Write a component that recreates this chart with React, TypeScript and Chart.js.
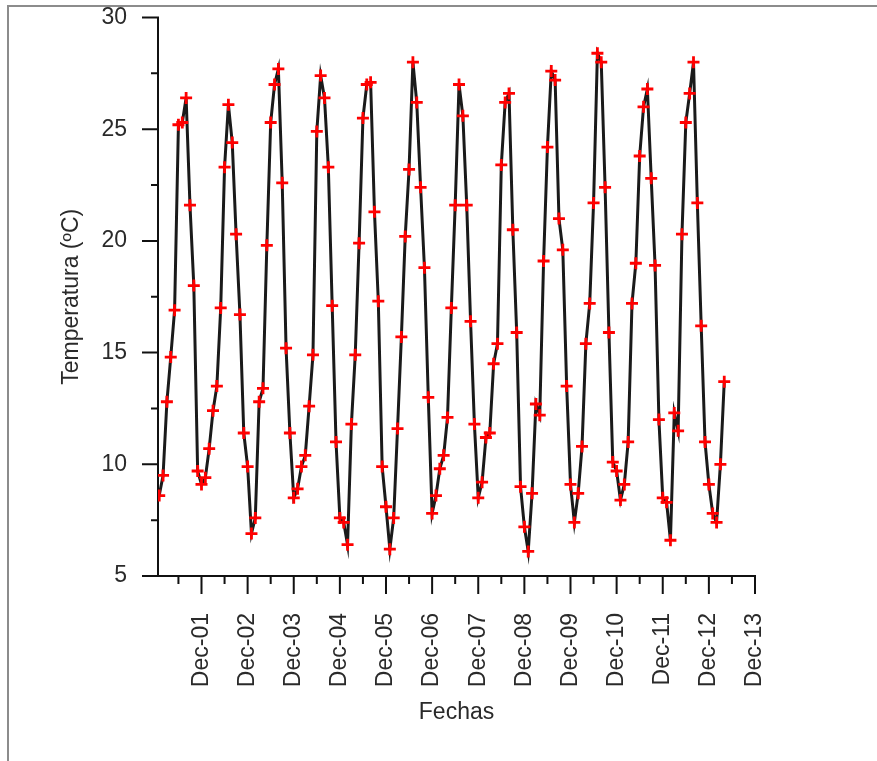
import React, { useEffect, useRef } from 'react';
import { Chart, registerables } from 'chart.js';

Chart.register(...registerables);

// X axis: days counted from Nov-30 00:00 (Dec-01 = 1)
const DAY_TICKS = [1, 2, 3, 4, 5, 6, 7, 8, 9, 10, 11, 12, 13];
const DAY_LABELS = ['Dec-01', 'Dec-02', 'Dec-03', 'Dec-04', 'Dec-05', 'Dec-06', 'Dec-07', 'Dec-08', 'Dec-09', 'Dec-10', 'Dec-11', 'Dec-12', 'Dec-13'];
const HALF_DAY_TICKS = [0.5, 1.5, 2.5, 3.5, 4.5, 5.5, 6.5, 7.5, 8.5, 9.5, 10.5, 11.5, 12.5];
const X_MIN = 0.057;
const X_MAX = 13;

// Y axis
const Y_TICKS = [5, 10, 15, 20, 25, 30];
const Y_MINOR_TICKS = [7.5, 12.5, 17.5, 22.5, 27.5];
const Y_MIN = 5;
const Y_MAX = 30;

// Samples every 2 hours, first one at 02:00 of Nov-30
const FIRST_SAMPLE_HOUR = 2;
const SAMPLE_STEP_HOURS = 2;

// Temperature (ºC), one block of 12 two-hourly samples each
const TEMP_BLOCK_01 = [8.6, 9.5, 12.8, 14.8, 16.9, 25.2, 25.3, 26.4, 21.6, 18.0, 9.7, 9.1];
const TEMP_BLOCK_02 = [9.4, 10.7, 12.4, 13.5, 17.0, 23.3, 26.1, 24.4, 20.3, 16.7, 11.4, 9.9];
const TEMP_BLOCK_03 = [6.9, 7.6, 12.8, 13.4, 19.8, 25.3, 27.0, 27.7, 22.6, 15.2, 11.4, 8.5];
const TEMP_BLOCK_04 = [8.9, 9.9, 10.4, 12.6, 14.9, 24.9, 27.4, 26.4, 23.3, 17.1, 11.0, 7.6];
const TEMP_BLOCK_05 = [7.4, 6.4, 11.8, 14.9, 19.9, 25.5, 27.0, 27.1, 21.3, 17.3, 9.9, 8.1];
const TEMP_BLOCK_06 = [6.2, 7.6, 11.6, 15.7, 20.2, 23.2, 28.0, 26.2, 22.4, 18.8, 13.0, 7.8];
const TEMP_BLOCK_07 = [8.6, 9.8, 10.4, 12.1, 17.0, 21.6, 27.0, 25.6, 21.6, 16.4, 11.8, 8.5];
const TEMP_BLOCK_08 = [9.2, 11.2, 11.4, 14.5, 15.4, 23.4, 26.2, 26.6, 20.5, 15.9, 9.0, 7.2];
const TEMP_BLOCK_09 = [6.1, 8.7, 12.7, 12.2, 19.1, 24.2, 27.6, 27.2, 21.0, 19.6, 13.5, 9.1];
const TEMP_BLOCK_10 = [7.4, 8.7, 10.8, 15.4, 17.2, 21.7, 28.4, 28.0, 22.4, 15.9, 10.1, 9.7];
const TEMP_BLOCK_11 = [8.4, 9.1, 11.0, 17.2, 19.0, 23.8, 26.0, 26.8, 22.8, 18.9, 12.0, 8.5];
const TEMP_BLOCK_12 = [8.3, 6.6, 12.3, 11.5, 20.3, 25.3, 26.6, 28.0, 21.7, 16.2, 11.0, 9.1];
const TEMP_BLOCK_13 = [7.8, 7.4, 10.0, 13.7];

const FONT_FAMILY = "'Liberation Sans', Arial, Helvetica, sans-serif";
const TEXT_COLOR = '#2a2a2a';
const FONT_SIZE = 23;

const axesPlugin = {
  id: 'axesAndTicks',
  beforeDatasetsDraw(chart: any) {
    const { ctx, chartArea: ca, scales } = chart;
    const xs = scales.x;
    const ys = scales.y;
    ctx.save();
    ctx.strokeStyle = '#111';
    ctx.lineWidth = 2;
    ctx.lineCap = 'butt';
    ctx.beginPath();
    const top = ys.getPixelForValue(Y_MAX);
    ctx.moveTo(ca.left, top - 1);
    ctx.lineTo(ca.left, ca.bottom);
    ctx.moveTo(ca.left - 1, ca.bottom);
    ctx.lineTo(xs.getPixelForValue(X_MAX) + 1, ca.bottom);
    for (const v of DAY_TICKS) {
      const px = xs.getPixelForValue(v);
      ctx.moveTo(px, ca.bottom);
      ctx.lineTo(px, ca.bottom + 18);
    }
    for (const v of HALF_DAY_TICKS) {
      const px = xs.getPixelForValue(v);
      ctx.moveTo(px, ca.bottom);
      ctx.lineTo(px, ca.bottom + 8);
    }
    for (const v of Y_TICKS) {
      const py = ys.getPixelForValue(v);
      ctx.moveTo(ca.left, py);
      ctx.lineTo(ca.left - 16, py);
    }
    for (const v of Y_MINOR_TICKS) {
      const py = ys.getPixelForValue(v);
      ctx.moveTo(ca.left, py);
      ctx.lineTo(ca.left - 7, py);
    }
    ctx.stroke();
    ctx.restore();
  },
};

export default function App() {
  const canvasRef = useRef<HTMLCanvasElement>(null);

  useEffect(() => {
    const temps = [
      ...TEMP_BLOCK_01, ...TEMP_BLOCK_02, ...TEMP_BLOCK_03, ...TEMP_BLOCK_04,
      ...TEMP_BLOCK_05, ...TEMP_BLOCK_06, ...TEMP_BLOCK_07, ...TEMP_BLOCK_08,
      ...TEMP_BLOCK_09, ...TEMP_BLOCK_10, ...TEMP_BLOCK_11, ...TEMP_BLOCK_12,
      ...TEMP_BLOCK_13,
    ];
    const points = temps.map((t, i) => ({
      x: (FIRST_SAMPLE_HOUR + i * SAMPLE_STEP_HOURS) / 24,
      y: t,
    }));

    Chart.defaults.font.family = FONT_FAMILY;

    const chart = new Chart(canvasRef.current as HTMLCanvasElement, {
      type: 'line',
      data: {
        datasets: [
          {
            data: points,
            borderColor: '#1a1a1a',
            borderWidth: 3,
            tension: 0,
            fill: false,
            pointStyle: 'cross',
            pointRadius: 6,
            pointBorderColor: '#ff0000',
            pointBackgroundColor: '#ff0000',
            pointBorderWidth: 2.8,
          },
        ],
      },
      options: {
        responsive: false,
        animation: false,
        devicePixelRatio: 1,
        layout: { autoPadding: false, padding: { left: 0, top: 17.5, right: 122, bottom: 0 } },
        plugins: {
          legend: { display: false },
          tooltip: { enabled: false },
        },
        scales: {
          x: {
            type: 'linear',
            min: X_MIN,
            max: X_MAX,
            afterBuildTicks: (s: any) => {
              s.ticks = DAY_TICKS.map((v) => ({ value: v }));
            },
            afterFit: (s: any) => {
              s.height = 185;
              s.paddingLeft = 0;
              s.paddingRight = 0;
              s.paddingTop = 0;
              s.paddingBottom = 0;
            },
            grid: { display: false, drawTicks: false },
            border: { display: false },
            ticks: {
              autoSkip: false,
              minRotation: 90,
              maxRotation: 90,
              padding: 37,
              color: TEXT_COLOR,
              font: { size: FONT_SIZE },
              callback: (v: any) => {
                const idx = DAY_TICKS.indexOf(Number(v));
                return idx >= 0 ? DAY_LABELS[idx] : '';
              },
            },
            title: {
              display: true,
              text: 'Fechas',
              color: TEXT_COLOR,
              font: { size: FONT_SIZE },
              padding: { top: 0, bottom: 35 },
            },
          },
          y: {
            type: 'linear',
            min: Y_MIN,
            max: Y_MAX,
            afterBuildTicks: (s: any) => {
              s.ticks = Y_TICKS.map((v) => ({ value: v }));
            },
            afterFit: (s: any) => {
              s.width = 158;
              s.paddingLeft = 0;
              s.paddingRight = 0;
              s.paddingTop = 0;
              s.paddingBottom = 0;
            },
            grid: { display: false, drawTicks: false },
            border: { display: false },
            ticks: {
              padding: 31,
              color: TEXT_COLOR,
              font: { size: FONT_SIZE },
            },
            title: {
              display: true,
              text: 'Temperatura (ºC)',
              color: TEXT_COLOR,
              font: { size: FONT_SIZE },
              padding: { top: 58, bottom: 0 },
            },
          },
        },
      },
      plugins: [axesPlugin],
    });

    return () => chart.destroy();
  }, []);

  return (
    <div style={{ position: 'fixed', left: 0, top: 0, width: 877, height: 761, background: '#fff', overflow: 'hidden' }}>
      <canvas ref={canvasRef} width={877} height={761} style={{ display: 'block' }} />
      <div
        style={{
          position: 'absolute',
          left: 7,
          top: 5,
          width: 900,
          height: 800,
          borderTop: '2px solid #8c8c8c',
          borderLeft: '2px solid #8c8c8c',
          pointerEvents: 'none',
        }}
      />
    </div>
  );
}
